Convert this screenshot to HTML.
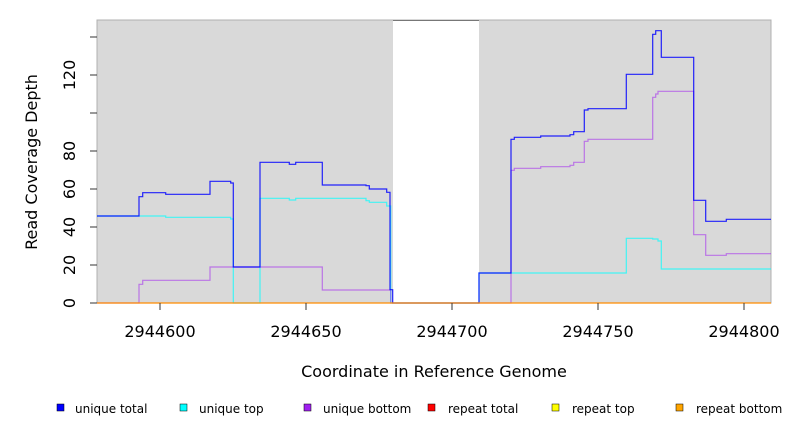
<!DOCTYPE html>
<html><head><style>body{margin:0;background:#fff}svg{display:block}</style></head><body>
<svg width="792" height="432" xmlns="http://www.w3.org/2000/svg" font-family="DejaVu Sans, Liberation Sans, sans-serif">
<rect x="97" y="20" width="674" height="283" fill="#d9d9d9" stroke="#b0b0b0" stroke-width="1"/>
<rect x="393" y="21" width="86" height="282" fill="#fff"/>
<line x1="393" y1="20.5" x2="479" y2="20.5" stroke="#777" stroke-width="1"/>
<g fill="none" stroke-width="1.2">
<polyline stroke="#00ffff" stroke-opacity="0.7" points="97,216 165.7,216 165.7,217.3 230.7,217.3 230.7,219 233.3,219 233.3,303 260,303 260,198.3 289.3,198.3 289.3,200 295.7,200 295.7,198.3 366,198.3 366,200.7 369.3,200.7 369.3,202.3 386.7,202.3 386.7,206 390.7,206 390.7,303 479,303 479,273 626.3,273 626.3,238.3 652.7,238.3 652.7,239 658,239 658,241 661.3,241 661.3,269 771,269"/>
<polyline stroke="#a020f0" stroke-opacity="0.55" points="97,303 139,303 139,284.3 142.7,284.3 142.7,280.3 210,280.3 210,267 322.3,267 322.3,290 390.7,290 390.7,303 511,303 511,170.3 514.3,170.3 514.3,168.3 540.7,168.3 540.7,166.7 570,166.7 570,165.3 573.7,165.3 573.7,162.3 584.3,162.3 584.3,141.3 588,141.3 588,139.3 652.7,139.3 652.7,97.3 655.7,97.3 655.7,94 658,94 658,91.3 693.7,91.3 693.7,234.7 705.7,234.7 705.7,255.3 726.3,255.3 726.3,253.7 771,253.7"/>
<polyline stroke="#0000ff" stroke-opacity="0.85" points="97,216 139,216 139,196.7 142.7,196.7 142.7,192.7 165.7,192.7 165.7,194.3 210,194.3 210,181.3 230.7,181.3 230.7,183 233.3,183 233.3,267 260,267 260,162.3 289.3,162.3 289.3,164.3 295.7,164.3 295.7,162.3 322.3,162.3 322.3,185 366,185 366,185.7 369.3,185.7 369.3,189 386.7,189 386.7,192.3 390,192.3 390,289.7 392.7,289.7 392.7,303 479,303 479,273 511,273 511,139.3 514.3,139.3 514.3,137.3 540.7,137.3 540.7,136 570,136 570,134.7 573.7,134.7 573.7,131.7 584.3,131.7 584.3,110 588,110 588,108.7 626.3,108.7 626.3,74.3 652.7,74.3 652.7,34.3 655.7,34.3 655.7,30.7 661.3,30.7 661.3,57.3 693.7,57.3 693.7,200.3 705.7,200.3 705.7,221.3 726.3,221.3 726.3,219.3 771,219.3"/>
</g>
<line x1="97" y1="303" x2="771" y2="303" stroke="#ff8c00" stroke-width="1.2"/>
<g stroke="#333" stroke-width="1">
<line x1="90" y1="303" x2="97" y2="303"/><line x1="90" y1="265" x2="97" y2="265"/><line x1="90" y1="227" x2="97" y2="227"/><line x1="90" y1="189" x2="97" y2="189"/><line x1="90" y1="151" x2="97" y2="151"/><line x1="90" y1="113" x2="97" y2="113"/><line x1="90" y1="75" x2="97" y2="75"/><line x1="90" y1="37" x2="97" y2="37"/>
<line x1="160" y1="303" x2="160" y2="310"/><line x1="306" y1="303" x2="306" y2="310"/><line x1="452" y1="303" x2="452" y2="310"/><line x1="598" y1="303" x2="598" y2="310"/><line x1="744" y1="303" x2="744" y2="310"/>
</g>
<g font-size="16" fill="#000" text-anchor="middle">
<text x="160" y="337">2944600</text><text x="306" y="337">2944650</text><text x="452" y="337">2944700</text><text x="598" y="337">2944750</text><text x="744" y="337">2944800</text>
<text transform="translate(75,303) rotate(-90)">0</text>
<text transform="translate(75,265) rotate(-90)">20</text>
<text transform="translate(75,227) rotate(-90)">40</text>
<text transform="translate(75,189) rotate(-90)">60</text>
<text transform="translate(75,151) rotate(-90)">80</text>
<text transform="translate(75,75) rotate(-90)">120</text>
<text transform="translate(37,162) rotate(-90)">Read Coverage Depth</text>
<text x="434" y="377">Coordinate in Reference Genome</text>
</g>
<g font-size="12" fill="#000">
<rect x="57" y="404" width="7" height="7" fill="#0000ff" stroke="#000" stroke-width="0.5"/><text x="75" y="413">unique total</text>
<rect x="180" y="404" width="7" height="7" fill="#00ffff" stroke="#000" stroke-width="0.5"/><text x="199" y="413">unique top</text>
<rect x="304" y="404" width="7" height="7" fill="#a020f0" stroke="#000" stroke-width="0.5"/><text x="323" y="413">unique bottom</text>
<rect x="428" y="404" width="7" height="7" fill="#ff0000" stroke="#000" stroke-width="0.5"/><text x="448" y="413">repeat total</text>
<rect x="552" y="404" width="7" height="7" fill="#ffff00" stroke="#000" stroke-width="0.5"/><text x="572" y="413">repeat top</text>
<rect x="676" y="404" width="7" height="7" fill="#ffa500" stroke="#000" stroke-width="0.5"/><text x="696" y="413">repeat bottom</text>
</g>
</svg>
</body></html>
